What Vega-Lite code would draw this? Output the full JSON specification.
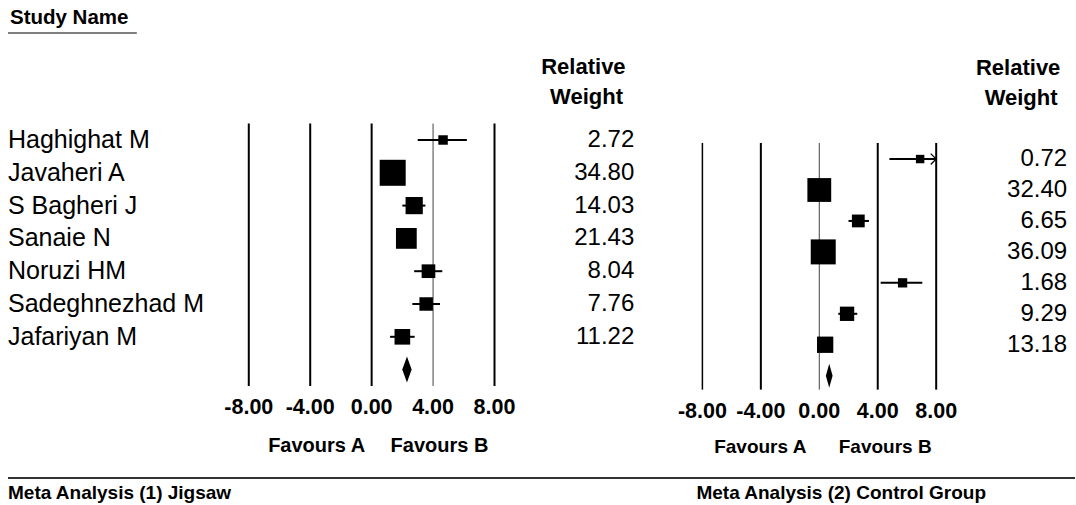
{
  "$schema": "https://vega.github.io/schema/vega-lite/v6.json",
  "width": 1076,
  "height": 505,
  "autosize": {"type": "fit", "contains": "padding"},
  "padding": 0,
  "background": "white",
  "config": {"view": {"stroke": null}, "text": {"font": "Liberation Sans", "color": "black"}},
  "datasets": {
    "jigsaw": [
      {"study": "Haghighat M", "row": 1, "est": 4.65, "lo": 3.0, "hi": 6.2, "weight": 2.72},
      {"study": "Javaheri A", "row": 2, "est": 1.37, "lo": 0.9, "hi": 1.9, "weight": 34.80},
      {"study": "S Bagheri J", "row": 3, "est": 2.77, "lo": 2.0, "hi": 3.5, "weight": 14.03},
      {"study": "Sanaie N", "row": 4, "est": 2.26, "lo": 1.7, "hi": 2.8, "weight": 21.43},
      {"study": "Noruzi HM", "row": 5, "est": 3.7, "lo": 2.77, "hi": 4.6, "weight": 8.04},
      {"study": "Sadeghnezhad M", "row": 6, "est": 3.55, "lo": 2.65, "hi": 4.45, "weight": 7.76},
      {"study": "\u2002Jafariyan M", "row": 7, "est": 2.0, "lo": 1.2, "hi": 2.8, "weight": 11.22}
    ],
    "jigsaw_total": [{"row": 8, "est": 2.3, "lo": 2.0, "hi": 2.65}],
    "control": [
      {"study": "Haghighat M", "row": 1, "est": 6.9, "lo": 4.8, "hi": 8.0, "weight": 0.72, "truncated": true},
      {"study": "Javaheri A", "row": 2, "est": 0.0, "lo": -0.5, "hi": 0.5, "weight": 32.40, "truncated": false},
      {"study": "S Bagheri J", "row": 3, "est": 2.67, "lo": 2.0, "hi": 3.4, "weight": 6.65, "truncated": false},
      {"study": "Sanaie N", "row": 4, "est": 0.27, "lo": -0.3, "hi": 0.8, "weight": 36.09, "truncated": false},
      {"study": "Noruzi HM", "row": 5, "est": 5.7, "lo": 4.2, "hi": 7.05, "weight": 1.68, "truncated": false},
      {"study": "Sadeghnezhad M", "row": 6, "est": 1.9, "lo": 1.3, "hi": 2.6, "weight": 9.29, "truncated": false},
      {"study": "Jafariyan M", "row": 7, "est": 0.4, "lo": 0.0, "hi": 0.8, "weight": 13.18, "truncated": false}
    ],
    "control_total": [{"row": 8, "est": 0.68, "lo": 0.47, "hi": 0.9}],
    "ticks": [
      {"tick": -8, "label": "-8.00"},
      {"tick": -4, "label": "-4.00"},
      {"tick": 0, "label": "0.00"},
      {"tick": 4, "label": "4.00"},
      {"tick": 8, "label": "8.00"}
    ],
    "one": [{}]
  },
  "layer": [
    {
      "layer": [
        {
          "data": {"name": "ticks"},
          "mark": {"type": "rule"},
          "encoding": {
            "x": {"field": "tick", "type": "quantitative", "scale": {"domain": [-24.2, 45.8], "nice": false, "zero": false}, "axis": null},
            "y": {"datum": 0.5, "type": "quantitative", "scale": {"domain": [-3.268, 12.128], "reverse": true, "nice": false, "zero": false}, "axis": null},
            "y2": {"datum": 8.5},
            "strokeWidth": {"condition": {"test": "datum.tick === 4", "value": 1}, "value": 2},
            "color": {"condition": {"test": "datum.tick === 4", "value": "#444444"}, "value": "black"}
          }
        },
        {
          "data": {"name": "jigsaw"},
          "mark": {"type": "rule", "color": "black", "strokeWidth": 2},
          "encoding": {
            "x": {"field": "lo", "type": "quantitative"},
            "x2": {"field": "hi"},
            "y": {"field": "row", "type": "quantitative"}
          }
        },
        {
          "data": {"name": "jigsaw"},
          "mark": {"type": "point", "shape": "square", "filled": true, "color": "black", "opacity": 1},
          "encoding": {
            "x": {"field": "est", "type": "quantitative"},
            "y": {"field": "row", "type": "quantitative"},
            "size": {"field": "weight", "type": "quantitative", "scale": {"domain": [0, 35], "range": [40, 680]}, "legend": null}
          }
        },
        {
          "data": {"name": "jigsaw_total"},
          "mark": {"type": "point", "shape": "M0,-1L0.36,0L0,1L-0.36,0Z", "filled": true, "color": "black", "opacity": 1, "size": 676},
          "encoding": {
            "x": {"field": "est", "type": "quantitative"},
            "y": {"field": "row", "type": "quantitative"}
          }
        },
        {
          "data": {"name": "jigsaw"},
          "mark": {"type": "text", "align": "left", "baseline": "middle", "fontSize": 25},
          "encoding": {
            "x": {"datum": -23.68, "type": "quantitative"},
            "y": {"field": "row", "type": "quantitative"},
            "text": {"field": "study"}
          }
        },
        {
          "data": {"name": "jigsaw"},
          "mark": {"type": "text", "align": "right", "baseline": "middle", "fontSize": 24},
          "encoding": {
            "x": {"datum": 17.1, "type": "quantitative"},
            "y": {"field": "row", "type": "quantitative"},
            "text": {"field": "weight", "type": "quantitative", "format": ".2f"}
          }
        },
        {
          "data": {"name": "ticks"},
          "mark": {"type": "text", "align": "center", "baseline": "middle", "fontSize": 21.5, "fontWeight": "bold"},
          "encoding": {
            "x": {"field": "tick", "type": "quantitative"},
            "y": {"datum": 9.17, "type": "quantitative"},
            "text": {"field": "label"}
          }
        },
        {
          "data": {"name": "one"},
          "mark": {"type": "text", "align": "center", "baseline": "middle", "fontSize": 20, "fontWeight": "bold", "text": "Favours A"},
          "encoding": {"x": {"datum": -3.58, "type": "quantitative"}, "y": {"datum": 10.33, "type": "quantitative"}}
        },
        {
          "data": {"name": "one"},
          "mark": {"type": "text", "align": "center", "baseline": "middle", "fontSize": 20, "fontWeight": "bold", "text": "Favours B"},
          "encoding": {"x": {"datum": 4.42, "type": "quantitative"}, "y": {"datum": 10.33, "type": "quantitative"}}
        },
        {
          "data": {"name": "one"},
          "mark": {"type": "text", "align": "center", "baseline": "middle", "fontSize": 22, "fontWeight": "bold", "text": "Relative"},
          "encoding": {"x": {"datum": 13.79, "type": "quantitative"}, "y": {"datum": -1.226, "type": "quantitative"}}
        },
        {
          "data": {"name": "one"},
          "mark": {"type": "text", "align": "center", "baseline": "middle", "fontSize": 22, "fontWeight": "bold", "text": "Weight"},
          "encoding": {"x": {"datum": 13.99, "type": "quantitative"}, "y": {"datum": -0.311, "type": "quantitative"}}
        },
        {
          "data": {"name": "one"},
          "mark": {"type": "text", "align": "left", "baseline": "middle", "fontSize": 20.5, "fontWeight": "bold", "text": "Study Name"},
          "encoding": {"x": {"datum": -23.55, "type": "quantitative"}, "y": {"datum": -2.72, "type": "quantitative"}}
        },
        {
          "data": {"name": "one"},
          "mark": {"type": "rule", "color": "#555555", "strokeWidth": 1.5},
          "encoding": {"x": {"datum": -23.68, "type": "quantitative"}, "x2": {"datum": -15.29}, "y": {"datum": -2.265, "type": "quantitative"}}
        },
        {
          "data": {"name": "one"},
          "mark": {"type": "rule", "color": "#333333", "strokeWidth": 2},
          "encoding": {"x": {"datum": -23.68, "type": "quantitative"}, "x2": {"datum": 45.8}, "y": {"datum": 11.305, "type": "quantitative"}}
        },
        {
          "data": {"name": "one"},
          "mark": {"type": "text", "align": "left", "baseline": "middle", "fontSize": 19, "fontWeight": "bold", "text": "Meta Analysis (1) Jigsaw"},
          "encoding": {"x": {"datum": -23.68, "type": "quantitative"}, "y": {"datum": 11.76, "type": "quantitative"}}
        }
      ]
    },
    {
      "layer": [
        {
          "data": {"name": "ticks"},
          "mark": {"type": "rule"},
          "encoding": {
            "x": {"field": "tick", "type": "quantitative", "scale": {"domain": [-56.07, 17.5], "nice": false, "zero": false}, "axis": null},
            "y": {"datum": 0.48, "type": "quantitative", "scale": {"domain": [-4.139, 12.178], "reverse": true, "nice": false, "zero": false}, "axis": null},
            "y2": {"datum": 8.45},
            "strokeWidth": {"condition": [{"test": "datum.tick === 0", "value": 1}, {"test": "datum.tick === -8", "value": 1.5}], "value": 2},
            "color": {"condition": {"test": "datum.tick === 0", "value": "#444444"}, "value": "black"}
          }
        },
        {
          "data": {"name": "control"},
          "mark": {"type": "rule", "color": "black", "strokeWidth": 2},
          "encoding": {
            "x": {"field": "lo", "type": "quantitative"},
            "x2": {"field": "hi"},
            "y": {"field": "row", "type": "quantitative"}
          }
        },
        {
          "data": {"name": "control"},
          "transform": [{"filter": "datum.truncated"}],
          "mark": {"type": "point", "shape": "M-1,-1L0,0L-1,1", "filled": false, "color": "black", "strokeWidth": 1.2, "opacity": 1, "size": 120},
          "encoding": {
            "x": {"field": "hi", "type": "quantitative"},
            "y": {"field": "row", "type": "quantitative"}
          }
        },
        {
          "data": {"name": "control"},
          "mark": {"type": "point", "shape": "square", "filled": true, "color": "black", "opacity": 1},
          "encoding": {
            "x": {"field": "est", "type": "quantitative"},
            "y": {"field": "row", "type": "quantitative"},
            "size": {"field": "weight", "type": "quantitative", "scale": {"domain": [0, 36.09], "range": [60, 625]}, "legend": null}
          }
        },
        {
          "data": {"name": "control_total"},
          "mark": {"type": "point", "shape": "M0,-1L0.28,0L0,1L-0.28,0Z", "filled": true, "color": "black", "opacity": 1, "size": 576},
          "encoding": {
            "x": {"field": "est", "type": "quantitative"},
            "y": {"field": "row", "type": "quantitative"}
          }
        },
        {
          "data": {"name": "control"},
          "mark": {"type": "text", "align": "right", "baseline": "middle", "fontSize": 24},
          "encoding": {
            "x": {"datum": 16.96, "type": "quantitative"},
            "y": {"field": "row", "type": "quantitative"},
            "text": {"field": "weight", "type": "quantitative", "format": ".2f"}
          }
        },
        {
          "data": {"name": "ticks"},
          "mark": {"type": "text", "align": "center", "baseline": "middle", "fontSize": 21.5, "fontWeight": "bold"},
          "encoding": {
            "x": {"field": "tick", "type": "quantitative"},
            "y": {"datum": 9.173, "type": "quantitative"},
            "text": {"field": "label"}
          }
        },
        {
          "data": {"name": "one"},
          "mark": {"type": "text", "align": "center", "baseline": "middle", "fontSize": 19, "fontWeight": "bold", "text": "Favours A"},
          "encoding": {"x": {"datum": -4.04, "type": "quantitative"}, "y": {"datum": 10.3, "type": "quantitative"}}
        },
        {
          "data": {"name": "one"},
          "mark": {"type": "text", "align": "center", "baseline": "middle", "fontSize": 19, "fontWeight": "bold", "text": "Favours B"},
          "encoding": {"x": {"datum": 4.51, "type": "quantitative"}, "y": {"datum": 10.3, "type": "quantitative"}}
        },
        {
          "data": {"name": "one"},
          "mark": {"type": "text", "align": "center", "baseline": "middle", "fontSize": 22, "fontWeight": "bold", "text": "Relative"},
          "encoding": {"x": {"datum": 13.61, "type": "quantitative"}, "y": {"datum": -1.942, "type": "quantitative"}}
        },
        {
          "data": {"name": "one"},
          "mark": {"type": "text", "align": "center", "baseline": "middle", "fontSize": 22, "fontWeight": "bold", "text": "Weight"},
          "encoding": {"x": {"datum": 13.81, "type": "quantitative"}, "y": {"datum": -0.973, "type": "quantitative"}}
        },
        {
          "data": {"name": "one"},
          "mark": {"type": "text", "align": "left", "baseline": "middle", "fontSize": 19, "fontWeight": "bold", "text": "Meta Analysis (2) Control Group"},
          "encoding": {"x": {"datum": -8.41, "type": "quantitative"}, "y": {"datum": 11.79, "type": "quantitative"}}
        }
      ]
    }
  ],
  "resolve": {"scale": {"x": "independent", "y": "independent", "size": "independent"}}
}
